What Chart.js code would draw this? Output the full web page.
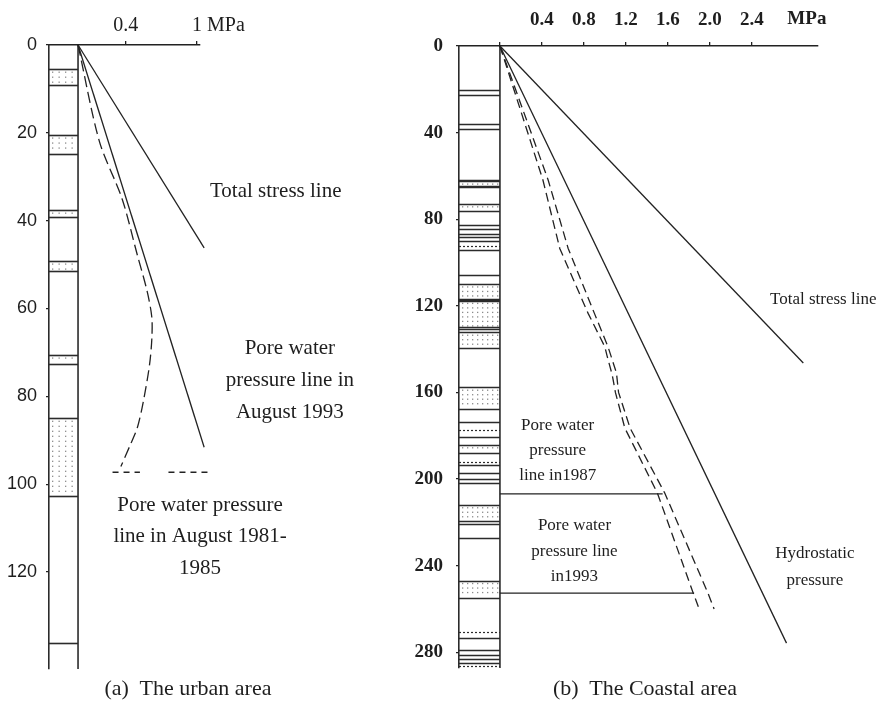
<!DOCTYPE html>
<html>
<head>
<meta charset="utf-8">
<script src="https://cdn.jsdelivr.net/npm/chart.js@4.4.1/dist/chart.umd.min.js"></script>
<style>
  html, body { margin: 0; padding: 0; background: #fff; }
  #wrap { position: relative; width: 879px; height: 711px; overflow: hidden; }
  canvas { position: absolute; top: 0; }
  #urban { left: 0; }
  #coastal { left: 400px; }
  .cap { position: absolute; top: 675px; font-family: "Liberation Serif", "Times New Roman", serif;
         font-size: 22px; line-height: 26px; color: #1e1e1e; white-space: pre; transform: translateX(-50%); }
</style>
</head>
<body>
<div id="wrap">
  <canvas id="urban" width="400" height="711"></canvas>
  <canvas id="coastal" width="479" height="711"></canvas>
  <div class="cap" style="left:188px">(a)  The urban area</div>
  <div class="cap" style="left:645px">(b)  The Coastal area</div>
</div>
<script>
// ---------- (a) urban area ----------
const urbanDepthTicks = [0, 20, 40, 60, 80, 100, 120];          // m
const urbanStressTicks = [0.4, 1];                               // MPa
const urbanSandLayers = [[5.5, 9.1], [20.5, 24.8], [37.6, 39.2], [49.2, 51.5], [70.6, 72.7], [85, 102.7]];
const urbanBoundaries = [136.2];
const urbanDottedLines = [];
const urbanTotalStressMPa = [0, 1.06];
const urbanTotalStressDepth = [0, 46.2];
const urbanHydroMPa = [0, 1.06];
const urbanHydroDepth = [0, 91.6];
const urbanPore1993MPa = [0, 0.18, 0.37, 0.50, 0.58, 0.62, 0.62, 0.60, 0.55, 0.50, 0.44, 0.36];
const urbanPore1993Depth = [0, 22, 35, 48, 56, 62, 67, 73, 81, 87, 91, 96];
const urbanPore1981MPa = [0.29, 0.52, null, 0.76, 1.09];
const urbanPore1981Depth = [97.3, 97.3, null, 97.3, 97.3];

// ---------- (b) coastal area ----------
const coastalDepthTicks = [0, 40, 80, 120, 160, 200, 240, 280];
const coastalStressTicks = [0, 0.4, 0.8, 1.2, 1.6, 2.0, 2.4];
const coastalSandLayers = [[62.5, 64.5], [73, 76], [87, 88.2], [110, 116.8], [117.6, 130], [132.3, 139.5],
                           [157.7, 167.5], [184.3, 188], [200.2, 201.8], [212, 219.5], [247, 255]];
const coastalBoundaries = [20.4, 22.6, 36.1, 38.2, 61.7, 65.2, 82.5, 84.5, 90.2, 94, 106, 117.2, 130.8,
                           173.6, 180.5, 193.5, 197.2, 220.8, 227.3, 273.4, 279.1, 281.1, 283.1, 285];
const coastalDottedLines = [92.5, 177.2, 192.3, 270.6, 286.5];
const coastalTotalStressMPa = [0, 2.89];
const coastalTotalStressDepth = [0, 146.4];
const coastalHydroMPa = [0, 2.73];
const coastalHydroDepth = [0, 275.8];
const coastalPore1987MPa = [0, 0.46, 0.65, 0.90, 1.03, 1.11, 1.13, 1.24, 1.57, 1.98, 2.04];
const coastalPore1987Depth = [0, 62, 93.5, 123.5, 139, 151, 160, 176.5, 206.5, 252.5, 260];
const coastalPore1993MPa = [0, 0.41, 0.57, 0.84, 1.00, 1.02, 1.07, 1.10, 1.19, 1.50, 1.84, 1.89];
const coastalPore1993Depth = [0, 62, 93.5, 123.5, 139, 143, 152, 160, 176.5, 206.5, 252.5, 259];
const coastalLevel1987MPa = [0, 1.55];
const coastalLevel1987Depth = [206.9, 206.9];
const coastalLevel1993MPa = [0, 1.85];
const coastalLevel1993Depth = [252.7, 252.7];

const INK = '#222';
const pts = (xs, ys) => xs.map((x, i) => ({ x: x, y: ys[i] }));

// Borehole column: sandy layers (dotted fill) and layer boundaries, left of the 0 MPa line
const columnPlugin = {
  id: 'column',
  beforeDatasetsDraw(chart, args, opts) {
    const { ctx, chartArea } = chart;
    const x = chart.scales.x, y = chart.scales.y;
    const left = chartArea.left, right = x.getPixelForValue(0);
    ctx.save();
    ctx.fillStyle = '#8c8c8c';
    opts.sand.forEach(([d0, d1]) => {
      const y0 = y.getPixelForValue(d0), y1 = y.getPixelForValue(d1);
      for (let yy = y0 + opts.dotRow / 2 + 0.5; yy < y1 - 1.5; yy += opts.dotRow) {
        for (let xx = left + 3; xx < right - 2; xx += opts.dotCol) ctx.fillRect(xx, yy - 0.6, 1.3, 1.3);
      }
    });
    ctx.strokeStyle = '#2b2b2b';
    const hline = d => {
      const yy = Math.round(y.getPixelForValue(d)) + 0.5;
      ctx.beginPath(); ctx.moveTo(left, yy); ctx.lineTo(right, yy); ctx.stroke();
    };
    ctx.lineWidth = 1.6;
    opts.sand.forEach(([d0, d1]) => { hline(d0); hline(d1); });
    opts.solid.forEach(hline);
    ctx.setLineDash([2, 2]); ctx.lineWidth = 1.2;
    opts.dotted.forEach(hline);
    ctx.setLineDash([]);
    ctx.lineWidth = 1.6;
    ctx.beginPath(); ctx.moveTo(right, chartArea.top); ctx.lineTo(right, chartArea.bottom); ctx.stroke();
    ctx.restore();
  }
};

// Text notes next to the lines, and the unit after the stress ticks
const notesPlugin = {
  id: 'notes',
  afterDraw(chart, args, opts) {
    const { ctx, chartArea } = chart;
    const x = chart.scales.x, y = chart.scales.y;
    ctx.save();
    ctx.fillStyle = '#1e1e1e';
    ctx.textBaseline = 'middle';
    ctx.font = opts.font;
    opts.items.forEach(n => {
      ctx.textAlign = n.align || 'center';
      const px = x.getPixelForValue(n.x), py = y.getPixelForValue(n.y);
      n.lines.forEach((t, i) => ctx.fillText(t, px, py + i * n.gap));
    });
    const u = opts.unit;
    ctx.font = u.font;
    ctx.textAlign = u.align;
    ctx.fillText(u.text, x.getPixelForValue(u.x) + u.dx, chartArea.top - u.lift);
    ctx.restore();
  }
};

function line(data, dash) {
  return { data: data, showLine: true, pointRadius: 0, borderColor: INK, borderWidth: 1.3,
           borderDash: dash || [], clip: false, tension: 0, spanGaps: false };
}

function makeChart(id, cfg) {
  return new Chart(document.getElementById(id), {
    type: 'scatter',
    data: { datasets: cfg.datasets },
    options: {
      responsive: false, animation: false, devicePixelRatio: 1,
      layout: { padding: cfg.padding },
      plugins: { legend: { display: false }, tooltip: { enabled: false },
                 column: cfg.column, notes: cfg.notes },
      scales: {
        x: {
          type: 'linear', position: 'top', min: cfg.xMin, max: cfg.xMax,
          afterBuildTicks: s => { s.ticks = cfg.xTicks.map(v => ({ value: v })); },
          afterFit: s => { s.height = cfg.padTop; },
          grid: { drawOnChartArea: false, drawTicks: true, tickLength: 4, color: INK, lineWidth: 1.3 },
          border: { color: INK, width: 1.6 },
          ticks: { font: cfg.xFont, color: '#1e1e1e', padding: cfg.xPad, maxRotation: 0, autoSkip: false,
                   callback: cfg.xLabel }
        },
        y: {
          type: 'linear', reverse: true, min: 0, max: cfg.yMax,
          afterBuildTicks: s => { s.ticks = cfg.yTicks.map(v => ({ value: v })); },
          afterFit: s => { s.width = cfg.padLeft; },
          grid: { drawOnChartArea: false, drawTicks: true, tickLength: 3, color: INK, lineWidth: 1.2 },
          border: { color: '#2b2b2b', width: 1.6 },
          ticks: { font: cfg.yFont, color: '#1e1e1e', padding: cfg.yPad, autoSkip: false }
        }
      }
    },
    plugins: [columnPlugin, notesPlugin]
  });
}

makeChart('urban', {
  padding: { top: 0, left: 0, right: 200, bottom: 42 },
  padTop: 45, padLeft: 49,
  xMin: -0.244, xMax: 1.025, yMax: 142.1,
  xTicks: urbanStressTicks, yTicks: urbanDepthTicks,
  xLabel: v => String(v),
  xFont: { family: '"Liberation Serif", serif', size: 20 }, xPad: 3,
  yFont: { family: '"Liberation Sans", Arial, sans-serif', size: 18 }, yPad: 9,
  column: { sand: urbanSandLayers, solid: urbanBoundaries, dotted: urbanDottedLines, dotRow: 5, dotCol: 6.5 },
  notes: {
    font: '21px "Liberation Serif", serif',
    items: [
      { lines: ['Total stress line'], x: 1.109, y: 33.4, align: 'left', gap: 0 },
      { lines: ['Pore water', 'pressure line in', 'August 1993'], x: 1.78, y: 69.0, gap: 32 },
      { lines: ['Pore water pressure', 'line in August 1981-', '1985'], x: 1.025, y: 104.8, gap: 31.5 }
    ],
    unit: { text: 'MPa', x: 1, dx: 10, align: 'left', lift: 19, font: '20px "Liberation Serif", serif' }
  },
  datasets: [
    line(pts(urbanTotalStressMPa, urbanTotalStressDepth)),
    line(pts(urbanHydroMPa, urbanHydroDepth)),
    Object.assign(line(pts(urbanPore1993MPa, urbanPore1993Depth), [11, 5]), { tension: 0.3 }),
    line(pts(urbanPore1981MPa, urbanPore1981Depth), [6, 5])
  ]
});

makeChart('coastal', {
  padding: { top: 0, left: 0, right: 61, bottom: 43 },
  padTop: 46, padLeft: 59,
  xMin: -0.39, xMax: 3.03, yMax: 287.3,
  xTicks: coastalStressTicks, yTicks: coastalDepthTicks,
  xLabel: v => (v === 0 ? '' : v.toFixed(1)),
  xFont: { family: '"Liberation Serif", serif', size: 19, weight: 'bold' }, xPad: 11,
  yFont: { family: '"Liberation Serif", serif', size: 19, weight: 'bold' }, yPad: 13,
  column: { sand: coastalSandLayers, solid: coastalBoundaries, dotted: coastalDottedLines, dotRow: 4.5, dotCol: 5 },
  notes: {
    font: '17px "Liberation Serif", serif',
    items: [
      { lines: ['Total stress line'], x: 3.08, y: 116.9, gap: 0 },
      { lines: ['Hydrostatic', 'pressure'], x: 3.0, y: 234.2, gap: 27 },
      { lines: ['Pore water', 'pressure', 'line in1987'], x: 0.55, y: 175.1, gap: 25 },
      { lines: ['Pore water', 'pressure line', 'in1993'], x: 0.71, y: 221.7, gap: 25.5 }
    ],
    unit: { text: 'MPa', x: 2.924, dx: 0, align: 'center', lift: 27, font: 'bold 19px "Liberation Serif", serif' }
  },
  datasets: [
    line(pts(coastalTotalStressMPa, coastalTotalStressDepth)),
    line(pts(coastalHydroMPa, coastalHydroDepth)),
    line(pts(coastalPore1987MPa, coastalPore1987Depth), [9, 5]),
    line(pts(coastalPore1993MPa, coastalPore1993Depth), [9, 5]),
    line(pts(coastalLevel1987MPa, coastalLevel1987Depth)),
    line(pts(coastalLevel1993MPa, coastalLevel1993Depth))
  ]
});
</script>
</body>
</html>
